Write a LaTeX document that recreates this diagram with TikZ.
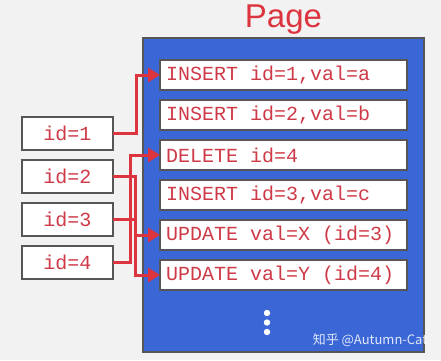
\documentclass[tikz,border=0pt]{standalone}
\usepackage{fontspec}
\setmainfont{Liberation Sans}
\setmonofont{Liberation Mono}
\newfontfamily\cjkfont{Noto Sans CJK SC}
\usetikzlibrary{arrows.meta,positioning}
\definecolor{pgred}{HTML}{DC3540}
\definecolor{pgtxt}{HTML}{CF3A48}
\definecolor{pgblue}{HTML}{3A66D6}
\definecolor{pggrey}{HTML}{565656}
\definecolor{pgback}{HTML}{F2F2F2}
\newcommand\recfont{\fontsize{20}{20}\selectfont\ttfamily}

\begin{document}
\begin{tikzpicture}[x=1pt,y=1pt,node distance=10pt,
  rec/.style={draw=pggrey,fill=white,line width=2.5pt,outer sep=0pt,
    text width=235pt,inner xsep=6pt,minimum height=30pt,align=flush left,
    font=\recfont,text=pgtxt},
  key/.style={draw=pggrey,fill=white,line width=2.5pt,outer sep=0pt,
    minimum width=91pt,minimum height=33pt,inner sep=0pt,
    font=\recfont,text=pgtxt},
  ar/.style={-{Triangle[length=12pt,width=14pt]},pgred,line width=3pt}]
\fill[pgback] (0,0) rectangle (441,360);
\useasboundingbox (0,0) rectangle (441,360);

\node[draw=pggrey,fill=pgblue,line width=2.5pt,minimum width=281pt,
  minimum height=314pt] (page) at (283.5,165) {};
\node[text=pgred,font=\fontsize{33}{33}\selectfont] (title) at (283.5,340) {Page};

% log records in the page
\node[rec] (r1) at (283.5,285) {INSERT id=1,val=a};
\node[rec,below=of r1] (r2) {INSERT id=2,val=b};
\node[rec,below=of r2] (r3) {DELETE id=4};
\node[rec,below=of r3] (r4) {INSERT id=3,val=c};
\node[rec,below=of r4] (r5) {UPDATE val=X (id=3)};
\node[rec,below=of r5] (r6) {UPDATE val=Y (id=4)};
\foreach \y in {47,37.5,28} \fill[white] (267,\y) circle (3.2pt);

% record ids
\node[key] (k1) at (67.5,226.5) {id=1};
\node[key,below=of k1] (k2) {id=2};
\node[key,below=of k2] (k3) {id=3};
\node[key,below=of k3] (k4) {id=4};

\draw[ar] (k1.east) -- ++(23,0) |- (r1.west);
\draw[ar] (k4.east) -- ++(17,0) |- (r3.west);
\draw[ar] (k2.east) -- ++(22,0) |- (r6.west);
\draw[ar] (k3.east) -- ++(22,0) |- (r5.west);

\node[text=white,opacity=0.85,font=\cjkfont\fontsize{13}{13}\selectfont]
  (mark) at (370,20) {知乎 @Autumn-Cat};
\end{tikzpicture}
\end{document}
